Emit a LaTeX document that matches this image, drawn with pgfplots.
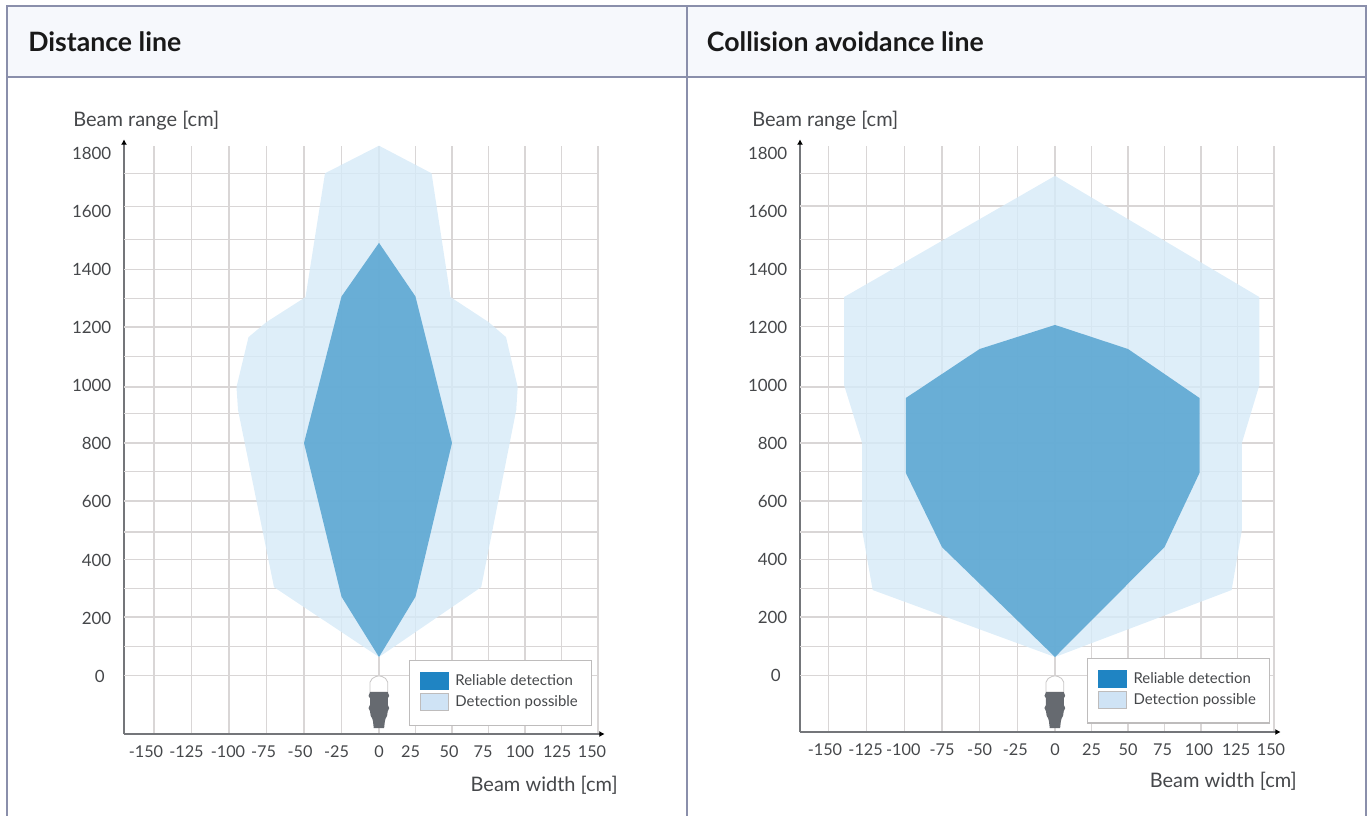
\documentclass[border=0pt]{standalone}
\usepackage{fontspec}
\setmainfont{Lato}
\usepackage{pgfplots}
\pgfplotsset{compat=1.18}
\usetikzlibrary{arrows.meta}

\definecolor{frameline}{HTML}{8A8FAB}
\definecolor{headfill}{HTML}{F6F8FC}
\definecolor{gridc}{HTML}{D9D6D6}
\definecolor{axisc}{HTML}{74767A}
\definecolor{textc}{HTML}{45474A}
\definecolor{reliable}{HTML}{5DA7D2}
\definecolor{possible}{HTML}{D6EAF8}
\definecolor{legdark}{HTML}{1F84C3}
\definecolor{leglight}{HTML}{CFE3F5}
\definecolor{sensor}{HTML}{666A70}

% tick labels sit off their grid lines in the original: pad on the right to move them left
\newcommand{\sh}[2]{#2\kern#1pt\relax}

% 1 px of the reference = 0.75pt here
\pgfplotsset{
    panel/.style={
        scale only axis,
        width=355.5pt,
        axis lines=left,
        clip=false,
        axis line style={draw=axisc, line width=1.5pt, shorten >=-5pt,
            -{Latex[length=4pt,width=4.5pt,black]}},
        ymax=1824, xmax=150,
        xtick={-150,-125,-100,-75,-50,-25,0,25,50,75,100,125,150},
        ytick={0,200,400,600,800,1000,1200,1400,1600,1800},
        yticklabels={\sh{5}{0},200,400,600,800,1000,1200,1400,1600,1800},
        extra y ticks={1828,1728,1617,1503,1397,1297,1200,1097,993,903,800,703,600,493,397,297,200,97,-3},
        extra y tick labels={},
        extra tick style={grid=major, major tick length=0pt},
        xmajorgrids=true,
        grid style={draw=gridc, line width=0.8pt},
        major tick length=0pt,
        scaled ticks=false,
        tick label style={text=textc},
        xticklabel style={font=\fontsize{12.2}{15}\selectfont, yshift=-5.5pt},
        yticklabel style={font=\fontsize{12.7}{15}\selectfont, xshift=-6pt, yshift=-0.7pt},
        xlabel style={font=\fontsize{15}{18}\selectfont, text=textc, anchor=base east, inner sep=0pt},
        ylabel style={font=\fontsize{15}{18}\selectfont, text=textc, rotate=-90, anchor=base west, inner sep=0pt},
        xlabel={Beam width [cm]},
        ylabel={Beam range [cm]},
        legend cell align=left,
        legend style={draw=gridc!70!gray, line width=0.8pt, fill=white, anchor=north west,
            font=\fontsize{11.2}{13}\selectfont, text=textc,
            inner xsep=8pt, inner ysep=8.5pt,
            row sep=1.75pt,
            /tikz/every odd column/.append style={column sep=3pt}},
    },
    swatch/.style n args={3}{
        legend image code/.code={
            \path[draw=none] (0pt,#3) -- (0pt,0pt);
            \path[fill=#1, draw=#2, line width=0.5pt] (0pt,-6.5pt) rectangle (21pt,6.5pt);
        }
    },
}

% sensor outline, shared by both panels (x in cm, y in cm)
\newcommand{\sensoricon}{%
    \addplot[fill=white, draw=gridc!80!gray, line width=0.6pt, forget plot] coordinates {
        (-6,-59) (-6,-25) (-4.5,-12) (-2,-5) (0,-3) (2,-5) (4.5,-12) (6,-25) (6,-59)
    } -- cycle;
    \addplot[fill=sensor, draw=none, forget plot] coordinates {
        (-6,-59) (6,-59) (7,-72) (6,-80) (6,-103) (7,-114) (6,-125) (5.5,-141) (4.5,-150)
        (4,-160) (3.5,-183) (-3.5,-183) (-4,-160) (-4.5,-150) (-5.5,-141) (-6,-125) (-7,-114)
        (-6,-103) (-6,-80) (-7,-72)
    } -- cycle;
}

\begin{document}
\begin{tikzpicture}
    \path[use as bounding box] (0pt,0pt) rectangle (1027.5pt,-612pt);

    % table frame
    \fill[headfill] (5.25pt,-4.5pt) rectangle (1024.5pt,-57.75pt);
    \draw[frameline, line width=1.3pt] (5.25pt,-612pt) -- (5.25pt,-4.5pt) -- (1024.5pt,-4.5pt) -- (1024.5pt,-612pt);
    \draw[frameline, line width=1.3pt] (5.25pt,-57.75pt) -- (1024.5pt,-57.75pt);
    \draw[frameline, line width=1.3pt] (515.25pt,-4.5pt) -- (515.25pt,-612pt);
    \node[anchor=base west, inner sep=0pt, font=\fontsize{20}{24}\selectfont\bfseries, text=black!90] at (21pt,-39pt) {Distance line};
    \node[anchor=base west, inner sep=0pt, font=\fontsize{20}{24}\selectfont\bfseries, text=black!90] at (530pt,-39pt) {Collision avoidance line};

    \begin{axis}[
            panel,
            at={(93pt,-550.5pt)}, anchor=south west,
            height=441pt,
            xmin=-170, ymin=-203.4,
            x coord trafo/.code={\pgfmathparse{ifthenelse(#1<0,1.5*#1,1.46*#1)}},
            xticklabels={\sh{12}{-150},\sh{7.5}{-125},\sh{1.5}{-100},\sh{4.5}{-75},\sh{6}{-50},\sh{7.5}{-25},0,
                \sh{7.5}{25},\sh{4.5}{50},\sh{8}{75},\sh{7.5}{100},\sh{6.5}{125},\sh{9}{150}},
            xlabel style={at={(axis description cs:1.042,-0.097)}},
            ylabel style={at={(axis description cs:-0.1076,1.034)}},
            legend style={at={(axis cs:20.5,51.7)}},
        ]
        \addlegendimage{swatch={legdark}{legdark}{0pt}}
        \addlegendentry{Reliable detection}
        \addlegendimage{swatch={leglight}{gridc!70!gray}{-9pt}}
        \addlegendentry{Detection possible}

        \addplot[fill=possible, fill opacity=0.8, draw=none, forget plot] coordinates {
            (0,1825) (36,1730) (49,1303) (75,1217) (87,1165) (95,993) (94,914) (70,303)
            (0,62)
            (-70,303) (-94,914) (-95,993) (-87,1165) (-75,1217) (-49,1303) (-36,1730)
        } -- cycle;
        \addplot[fill=reliable, fill opacity=0.9, draw=none, forget plot] coordinates {
            (0,1490) (25,1305) (50,800) (25,270) (0,62) (-25,270) (-50,800) (-25,1305)
        } -- cycle;
        \sensoricon
    \end{axis}

    \begin{axis}[
            panel,
            at={(600pt,-549pt)}, anchor=south west,
            height=439.5pt,
            xmin=-169.2, ymin=-196.6,
            x coord trafo/.code={\pgfmathparse{ifthenelse(#1<0,1.507*#1,1.46*#1)}},
            xticklabels={\sh{6}{-150},\sh{1.5}{-125},\sh{1.5}{-100},-75,-50,\sh{3}{-25},0,
                25,50,\sh{3}{75},\sh{3}{100},\sh{2}{125},\sh{4.5}{150}},
            xlabel style={at={(axis description cs:1.0485,-0.0939)}},
            ylabel style={at={(axis description cs:-0.1013,1.034)}},
            legend style={at={(axis cs:21.9,58.6)}},
        ]
        \addlegendimage{swatch={legdark}{legdark}{0pt}}
        \addlegendentry{Reliable detection}
        \addlegendimage{swatch={leglight}{gridc!70!gray}{-9pt}}
        \addlegendentry{Detection possible}

        \addplot[fill=possible, fill opacity=0.8, draw=none, forget plot] coordinates {
            (0,1721) (140,1303) (140,1000) (128,800) (128,500) (121,293) (0,62)
            (-121,293) (-128,500) (-128,800) (-140,1000) (-140,1303)
        } -- cycle;
        \addplot[fill=reliable, fill opacity=0.9, draw=none, forget plot] coordinates {
            (0,1207) (50,1124) (99,955) (99,697) (75,441) (0,62)
            (-75,441) (-99,697) (-99,955) (-50,1124)
        } -- cycle;
        \sensoricon
    \end{axis}
\end{tikzpicture}
\end{document}
